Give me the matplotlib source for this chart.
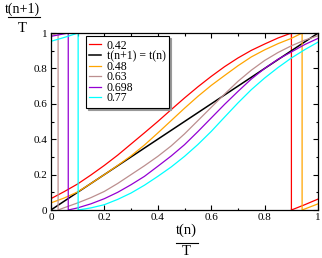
import matplotlib
matplotlib.use("Agg")
import matplotlib.pyplot as plt
from matplotlib.lines import Line2D

plt.rcParams['font.family'] = ['Liberation Serif', 'DejaVu Serif']

# curves (t(n)/T on x, t(n+1)/T on y)
# each one jumps from 1 back to 0 where it wraps round
red_x = [0, 0.05, 0.1, 0.15, 0.2, 0.25, 0.3, 0.35, 0.4, 0.45, 0.5, 0.55, 0.6, 0.65,
         0.7, 0.75, 0.8, 0.85, 0.9, 0.9, 0.95, 1.0]
red_y = [0.064, 0.104, 0.147, 0.198, 0.252, 0.31, 0.373, 0.436, 0.5, 0.567, 0.633, 0.696,
         0.755, 0.81, 0.859, 0.902, 0.938, 0.972, 1.0, 0.0, 0.03, 0.062]

ident_x = [0, 1]
ident_y = [0, 1]

orange_x = [0, 0.05, 0.1, 0.15, 0.2, 0.25, 0.3, 0.35, 0.4, 0.45, 0.5, 0.55, 0.6, 0.65,
            0.7, 0.75, 0.8, 0.85, 0.9, 0.94, 0.94, 1.0]
orange_y = [0.04, 0.068, 0.102, 0.15, 0.2, 0.252, 0.306, 0.367, 0.435, 0.505, 0.575,
            0.642, 0.704, 0.76, 0.815, 0.865, 0.905, 0.94, 0.97, 1.0, 0.0, 0.035]

brown_x = [0, 0.027, 0.027, 0.05, 0.1, 0.15, 0.2, 0.25, 0.3, 0.35, 0.4, 0.45, 0.5, 0.55,
           0.6, 0.65, 0.7, 0.75, 0.8, 0.85, 0.9, 0.95, 1.0]
brown_y = [0.985, 1.0, 0.0, 0.013, 0.04, 0.07, 0.105, 0.15, 0.2, 0.25, 0.303, 0.362, 0.43,
           0.505, 0.58, 0.655, 0.727, 0.79, 0.845, 0.89, 0.928, 0.96, 0.985]

violet_x = [0, 0.065, 0.065, 0.1, 0.15, 0.2, 0.25, 0.3, 0.35, 0.4, 0.45, 0.5, 0.55, 0.6,
            0.65, 0.7, 0.75, 0.8, 0.85, 0.9, 0.95, 1.0]
violet_y = [0.981, 1.0, 0.0, 0.012, 0.035, 0.064, 0.1, 0.143, 0.19, 0.247, 0.305, 0.369,
            0.443, 0.52, 0.597, 0.67, 0.74, 0.8, 0.852, 0.893, 0.935, 0.97]

cyan_x = [0, 0.05, 0.102, 0.102, 0.15, 0.2, 0.25, 0.3, 0.35, 0.4, 0.45, 0.5, 0.55, 0.6,
          0.65, 0.7, 0.75, 0.8, 0.85, 0.9, 0.95, 1.0]
cyan_y = [0.953, 0.975, 1.0, 0.0, 0.012, 0.03, 0.06, 0.096, 0.14, 0.19, 0.243, 0.303, 0.37,
          0.444, 0.525, 0.605, 0.68, 0.746, 0.805, 0.859, 0.906, 0.949]

labels = ["0.42", "t(n+1) = t(n)", "0.48", "0.63", "0.698", "0.77"]
colors = ["#ff0000", "#000000", "#ffa500", "#bc8f8f", "#9400d3", "#00ffff"]
widths = [0.9, 1.1, 0.9, 0.9, 0.9, 0.9]
ticks = [0, 0.2, 0.4, 0.6, 0.8, 1]
tick_labels = ["0", "0.2", "0.4", "0.6", "0.8", "1"]

fig = plt.figure(figsize=(3.22, 2.58), dpi=100)
ax = fig.add_axes([0.158, 0.186, 0.83, 0.686])

curves = [(red_x, red_y), (ident_x, ident_y), (orange_x, orange_y),
          (brown_x, brown_y), (violet_x, violet_y), (cyan_x, cyan_y)]
for (xs, ys), c, w, lab in zip(curves, colors, widths, labels):
    ax.plot(xs, ys, color=c, lw=w, label=lab)

ax.set_xlim(0, 1)
ax.set_ylim(0, 1)
ax.set_xticks(ticks)
ax.set_xticklabels(tick_labels)
ax.set_yticks(ticks)
ax.set_yticklabels(tick_labels)
ax.set_xticks([0.1, 0.3, 0.5, 0.7, 0.9], minor=True)
ax.set_yticks([0.1, 0.3, 0.5, 0.7, 0.9], minor=True)
ax.tick_params(which='both', direction='in', top=True, right=True, labelsize=8, width=0.8)
ax.tick_params(which='major', length=3.6, pad=2.5)
ax.tick_params(which='minor', length=1.8)
for s in ax.spines.values():
    s.set_linewidth(0.9)

leg = ax.legend(loc='upper left', bbox_to_anchor=(0.131, 0.983), borderaxespad=0,
                fontsize=8.5, handlelength=1.0, handletextpad=0.45, labelspacing=-0.12,
                borderpad=0.3, fancybox=False, framealpha=1,
                shadow={'color': '0.6', 'alpha': 1, 'ox': 1.5, 'oy': -1.5})
leg.get_frame().set_edgecolor('black')
leg.get_frame().set_linewidth(0.8)

# y label as a fraction above the axis
fig.text(0.068, 0.963, "t(n+1)", ha='center', va='center', fontsize=10)
fig.add_artist(Line2D([8 / 322, 40 / 322], [0.933, 0.933], transform=fig.transFigure,
                      color='black', lw=0.8))
fig.text(0.068, 0.891, "T", ha='center', va='center', fontsize=10.5)

# x label
fig.text(0.579, 0.106, "t(n)", ha='center', va='center', fontsize=10.5)
fig.add_artist(Line2D([0.547, 0.615], [0.058, 0.058], transform=fig.transFigure,
                      color='black', lw=0.8))
fig.text(0.579, 0.025, "T", ha='center', va='center', fontsize=10.5)

fig.savefig("out.png", dpi=100)
